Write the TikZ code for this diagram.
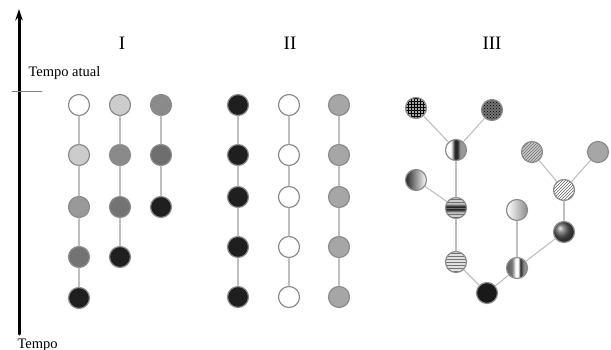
\documentclass[tikz,border=0pt]{standalone}
\usepackage{fontspec}
\setmainfont{Liberation Serif}
\usetikzlibrary{arrows.meta,patterns}

% sombreados das bolas do grupo III
\pgfdeclarehorizontalshading{faixaC}{100bp}{color(0bp)=(white); color(38bp)=(white); color(47bp)=(black!85); color(53bp)=(black!85); color(60bp)=(black!40); color(100bp)=(black!40)}
\pgfdeclarehorizontalshading{faixaH}{100bp}{color(0bp)=(black!75); color(38bp)=(black!55); color(47bp)=(white); color(53bp)=(white); color(58bp)=(black!85); color(66bp)=(black!45); color(100bp)=(black!45)}
\pgfdeclareverticalshading{faixaE}{100bp}{color(0bp)=(white); color(40bp)=(black!25); color(46bp)=(black!85); color(54bp)=(black!85); color(60bp)=(black!25); color(100bp)=(white)}

\begin{document}
\begin{tikzpicture}[x=1pt,y=-1pt,>={Stealth[length=4mm,width=2.6mm]},line cap=round,line join=round,
  bola/.style={circle,draw=black!45,line width=1.2pt,minimum size=21pt,inner sep=0pt},
  liga/.style={draw=black!25,line width=1.1pt},
  titulo/.style={font=\fontsize{19}{21}\selectfont}]
\useasboundingbox (0,0) rectangle (611,350);
% eixo do tempo
\coordinate (base) at (19,334);
\coordinate (topo) at (19,9);
\draw[->,line width=3pt] (base) -- (topo);
\draw[gray,line width=0.8pt] (12,91) -- (42,91);
\node[anchor=base west,font=\fontsize{14.5}{16}\selectfont] (atual) at (25,77) {Tempo atual};
\node[anchor=base west,font=\fontsize{14.5}{16}\selectfont] (tempo) at (14,348) {Tempo};
% titulos
\node[titulo] (tI) at (122,43) {I};
\node[titulo] (tII) at (290,43) {II};
\node[titulo] (tIII) at (492,43) {III};
% grupo I
\node[bola,fill=white] (a1) at (79,105) {};
\node[bola,fill=black!20] (a2) at (79,155) {};
\node[bola,fill=black!40] (a3) at (79,207) {};
\node[bola,fill=black!55] (a4) at (79,257) {};
\node[bola,fill=black!88] (a5) at (79,298) {};
\node[bola,fill=black!20] (b1) at (120,105) {};
\node[bola,fill=black!46] (b2) at (120,155) {};
\node[bola,fill=black!55] (b3) at (120,207) {};
\node[bola,fill=black!88] (b4) at (120,257) {};
\node[bola,fill=black!46] (c1) at (161,105) {};
\node[bola,fill=black!57] (c2) at (161,155) {};
\node[bola,fill=black!88] (c3) at (161,207) {};
\draw[liga] (a1) -- (a2);
\draw[liga] (a2) -- (a3);
\draw[liga] (a3) -- (a4);
\draw[liga] (a4) -- (a5);
\draw[liga] (b1) -- (b2);
\draw[liga] (b2) -- (b3);
\draw[liga] (b3) -- (b4);
\draw[liga] (c1) -- (c2);
\draw[liga] (c2) -- (c3);
% grupo II
\node[bola,fill=black!88] (d1) at (238,105) {};
\node[bola,fill=black!88] (d2) at (238,155) {};
\node[bola,fill=black!88] (d3) at (238,197) {};
\node[bola,fill=black!88] (d4) at (238,247) {};
\node[bola,fill=black!88] (d5) at (238,297) {};
\node[bola,fill=white] (e1) at (289,105) {};
\node[bola,fill=white] (e2) at (289,155) {};
\node[bola,fill=white] (e3) at (289,197) {};
\node[bola,fill=white] (e4) at (289,247) {};
\node[bola,fill=white] (e5) at (289,297) {};
\node[bola,fill=black!35] (f1) at (339,105) {};
\node[bola,fill=black!35] (f2) at (339,155) {};
\node[bola,fill=black!35] (f3) at (339,197) {};
\node[bola,fill=black!35] (f4) at (339,247) {};
\node[bola,fill=black!35] (f5) at (339,297) {};
\draw[liga] (d1) -- (d2);
\draw[liga] (d2) -- (d3);
\draw[liga] (d3) -- (d4);
\draw[liga] (d4) -- (d5);
\draw[liga] (e1) -- (e2);
\draw[liga] (e2) -- (e3);
\draw[liga] (e3) -- (e4);
\draw[liga] (e4) -- (e5);
\draw[liga] (f1) -- (f2);
\draw[liga] (f2) -- (f3);
\draw[liga] (f3) -- (f4);
\draw[liga] (f4) -- (f5);
% grupo III
\node[bola,preaction={fill=black!35},pattern=grid,pattern color=black] (g1) at (416,108) {};
\node[bola,preaction={fill=black!55},pattern=crosshatch dots,pattern color=black] (g2) at (492,110) {};
\node[bola,shading=faixaC] (g3) at (456,150) {};
\node[bola,left color=black!85,right color=white] (g4) at (416,180) {};
\node[bola,shading=faixaE,postaction={pattern=horizontal lines,pattern color=black!55}] (g5) at (456,208) {};
\node[bola,preaction={fill=black!12},pattern=horizontal lines,pattern color=black!55] (g6) at (456,262) {};
\node[bola,fill=black!90] (g7) at (487,293) {};
\node[bola,shading=faixaH] (g8) at (517,268) {};
\node[bola,left color=white,right color=black!45] (g9) at (517,210) {};
\node[bola,ball color=black!65] (g10) at (564,232) {};
\node[bola,preaction={fill=white},pattern=north east lines,pattern color=black!60] (g11) at (564,190) {};
\node[bola,preaction={fill=black!22},pattern=north east lines,pattern color=black!55] (g12) at (532,152) {};
\node[bola,fill=black!35] (g13) at (598,152) {};
\draw[liga] (g1) -- (g3);
\draw[liga] (g2) -- (g3);
\draw[liga] (g3) -- (g5);
\draw[liga] (g4) -- (g5);
\draw[liga] (g5) -- (g6);
\draw[liga] (g6) -- (g7);
\draw[liga] (g7) -- (g8);
\draw[liga] (g8) -- (g9);
\draw[liga] (g8) -- (g10);
\draw[liga] (g10) -- (g11);
\draw[liga] (g11) -- (g12);
\draw[liga] (g11) -- (g13);
\end{tikzpicture}
\end{document}
